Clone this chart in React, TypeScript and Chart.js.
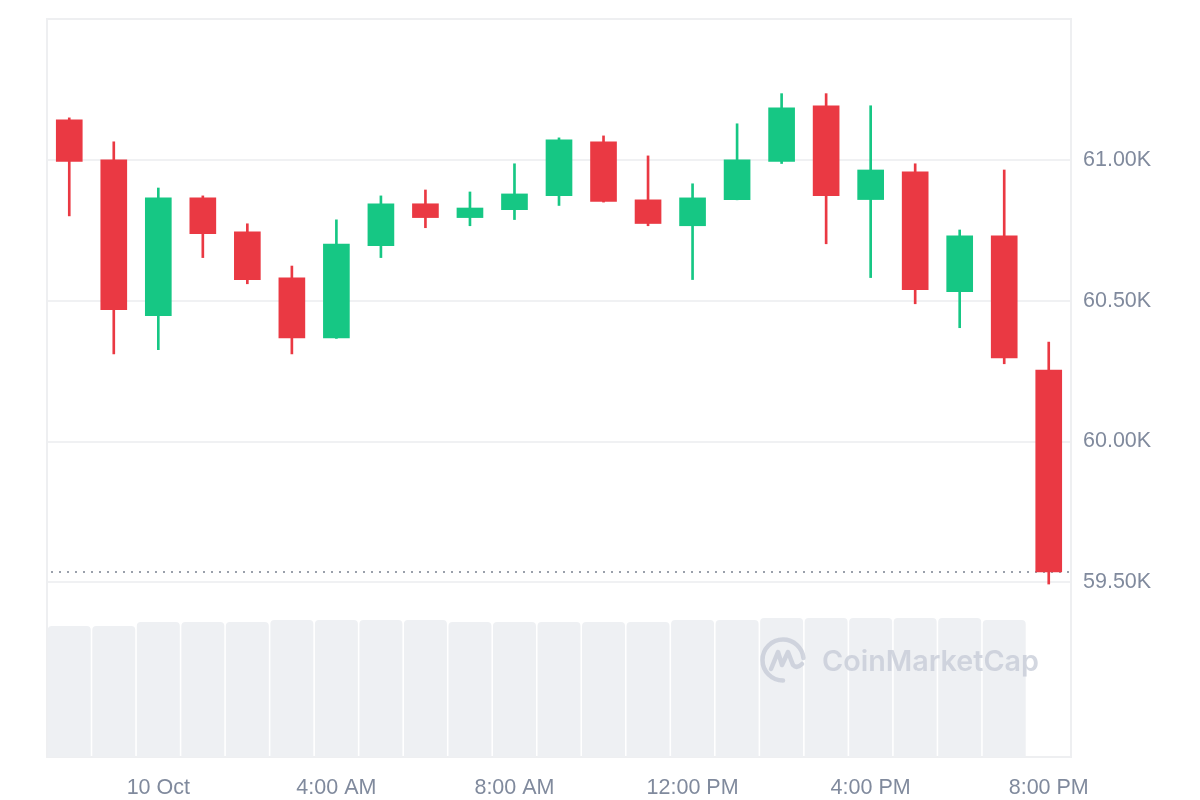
import React, { useEffect, useRef } from 'react';
import { Chart, registerables } from 'chart.js';

Chart.register(...registerables);

// Hour of each hourly candle (9 Oct 22:00 -> 10 Oct 20:00)
const hours = [22, 23, 0, 1, 2, 3, 4, 5, 6, 7, 8, 9, 10, 11, 12, 13, 14, 15, 16, 17, 18, 19, 20];

const openPrices = [61142, 61000, 60447, 60865, 60744, 60581, 60368, 60695, 60844, 60795, 60823, 60873, 61064, 60858, 60766, 60859, 60994, 61192, 60859, 60957, 60532, 60730, 60254];
const highPrices = [61149, 61064, 60900, 60872, 60773, 60623, 60787, 60872, 60893, 60886, 60986, 61078, 61085, 61014, 60915, 61128, 61235, 61235, 61192, 60986, 60751, 60964, 60353];
const lowPrices = [60801, 60311, 60326, 60653, 60560, 60311, 60366, 60653, 60759, 60766, 60788, 60838, 60850, 60766, 60575, 60858, 60987, 60702, 60582, 60489, 60404, 60276, 59494];
const closePrices = [60994, 60468, 60865, 60738, 60575, 60368, 60701, 60844, 60795, 60829, 60879, 61071, 60852, 60774, 60865, 61000, 61185, 60873, 60964, 60539, 60730, 60297, 59537];

// Volume (billions USD, relative)
const volumes = [2.62, 2.62, 2.70, 2.70, 2.70, 2.74, 2.74, 2.74, 2.74, 2.70, 2.70, 2.70, 2.70, 2.70, 2.74, 2.74, 2.78, 2.78, 2.78, 2.78, 2.78, 2.74, null];

const yTicks = [59500, 60000, 60500, 61000];

const UP = '#16c784';
const DOWN = '#ea3943';
const TEXT = '#808a9d';
const GRID = '#f0f1f3';
const FRAME = '#eeeff1';
const FONT = '"Liberation Sans", Arial, sans-serif';

function hourLabel(h: number): string {
  if (h === 0) return '10 Oct';
  if (h % 4 !== 0) return '';
  const ap = h < 12 ? 'AM' : 'PM';
  const hh = h % 12 === 0 ? 12 : h % 12;
  return `${hh}:00 ${ap}`;
}

const framePlugin = {
  id: 'frame',
  beforeDatasetsDraw(chart: any) {
    const { ctx, chartArea } = chart;
    ctx.save();
    ctx.strokeStyle = FRAME;
    ctx.lineWidth = 2;
    ctx.beginPath();
    ctx.moveTo(chartArea.left, chartArea.bottom);
    ctx.lineTo(chartArea.left, chartArea.top);
    ctx.lineTo(chartArea.right, chartArea.top);
    ctx.stroke();
    // last price dotted line
    const y = chart.scales.y.getPixelForValue(closePrices[closePrices.length - 1]);
    ctx.strokeStyle = '#9aa0ab';
    ctx.lineWidth = 2;
    ctx.setLineDash([2, 6]);
    ctx.beginPath();
    ctx.moveTo(chartArea.left + 4, y);
    ctx.lineTo(chartArea.right, y);
    ctx.stroke();
    ctx.restore();
  },
};

const watermarkPlugin = {
  id: 'watermark',
  afterDatasetsDraw(chart: any) {
    const { ctx, chartArea } = chart;
    const cx = chartArea.left + 736;
    const cy = chartArea.top + 641;
    const col = 'rgba(196, 202, 214, 0.75)';
    ctx.save();
    ctx.strokeStyle = col;
    ctx.lineWidth = 4.5;
    ctx.lineCap = 'round';
    ctx.lineJoin = 'round';
    ctx.beginPath();
    ctx.arc(cx, cy, 20.5, 0.5 * Math.PI, 1.97 * Math.PI);
    ctx.stroke();
    ctx.beginPath();
    ctx.moveTo(cx - 12, cy + 9);
    ctx.lineTo(cx - 5, cy - 8);
    ctx.lineTo(cx - 1, cy + 5);
    ctx.lineTo(cx + 5, cy - 8);
    ctx.lineTo(cx + 10, cy + 5);
    ctx.quadraticCurveTo(cx + 14, cy + 9, cx + 19, cy + 4);
    ctx.stroke();
    const text = 'CoinMarketCap';
    let size = 28;
    ctx.font = `600 ${size}px Inter, "Open Sans", sans-serif`;
    const w = ctx.measureText(text).width;
    size = size * 217 / w;
    ctx.font = `600 ${size}px Inter, "Open Sans", sans-serif`;
    ctx.fillStyle = col;
    ctx.textBaseline = 'alphabetic';
    ctx.fillText(text, chartArea.left + 775, chartArea.top + 652);
    ctx.restore();
  },
};

export default function App() {
  const ref = useRef<HTMLCanvasElement | null>(null);

  useEffect(() => {
    if (!ref.current) return;
    const colors = openPrices.map((o, i) => (closePrices[i] >= o ? UP : DOWN));
    const chart = new Chart(ref.current, {
      type: 'bar',
      data: {
        labels: hours.map(String),
        datasets: [
          {
            label: 'Wick',
            data: lowPrices.map((l, i) => [l, highPrices[i]]) as any,
            backgroundColor: colors,
            barThickness: 2,
            grouped: false,
            yAxisID: 'y',
            order: 2,
          },
          {
            label: 'Body',
            data: openPrices.map((o, i) => [o, closePrices[i]]) as any,
            backgroundColor: colors,
            barThickness: 26,
            grouped: false,
            yAxisID: 'y',
            order: 1,
          },
          {
            label: 'Volume',
            data: volumes as any,
            backgroundColor: '#eef0f3',
            barPercentage: 0.965,
            categoryPercentage: 1,
            grouped: false,
            borderRadius: { topLeft: 4, topRight: 4, bottomLeft: 0, bottomRight: 0 },
            borderSkipped: false,
            yAxisID: 'yv',
            order: 3,
          },
        ],
      },
      options: {
        responsive: false,
        animation: false,
        layout: { padding: { left: 47, top: 19, right: 0, bottom: 0 } },
        plugins: { legend: { display: false }, tooltip: { enabled: false } },
        scales: {
          x: {
            type: 'category',
            offset: true,
            grid: { display: false, drawTicks: false },
            border: { display: true, color: FRAME, width: 2 },
            ticks: {
              autoSkip: false,
              maxRotation: 0,
              padding: 18,
              color: TEXT,
              font: { family: FONT, size: 21.5 },
              callback: (_v: any, i: number) => hourLabel(hours[i]),
            },
            afterFit: (s: any) => { s.height = 43; s.paddingLeft = 0; s.paddingRight = 0; },
          },
          y: {
            type: 'linear',
            position: 'right',
            min: 58880,
            max: 61500,
            afterBuildTicks: (s: any) => { s.ticks = yTicks.map((v) => ({ value: v })); },
            grid: { color: GRID, lineWidth: 2, drawTicks: false },
            border: { display: true, color: FRAME, width: 2 },
            ticks: {
              padding: 12,
              color: TEXT,
              font: { family: FONT, size: 21.5 },
              callback: (v: any) => (v / 1000).toFixed(2) + 'K',
            },
            afterFit: (s: any) => { s.width = 129; s.paddingTop = 0; s.paddingBottom = 0; },
          },
          yv: {
            type: 'linear',
            display: false,
            min: 0,
            max: 14.76,
          },
        },
      },
      plugins: [framePlugin, watermarkPlugin],
    });
    return () => chart.destroy();
  }, []);

  return (
    <div style={{ position: 'absolute', left: 0, top: 0, width: 1200, height: 800, background: '#fff' }}>
      <canvas ref={ref} width={1200} height={800} style={{ display: 'block' }} />
    </div>
  );
}
